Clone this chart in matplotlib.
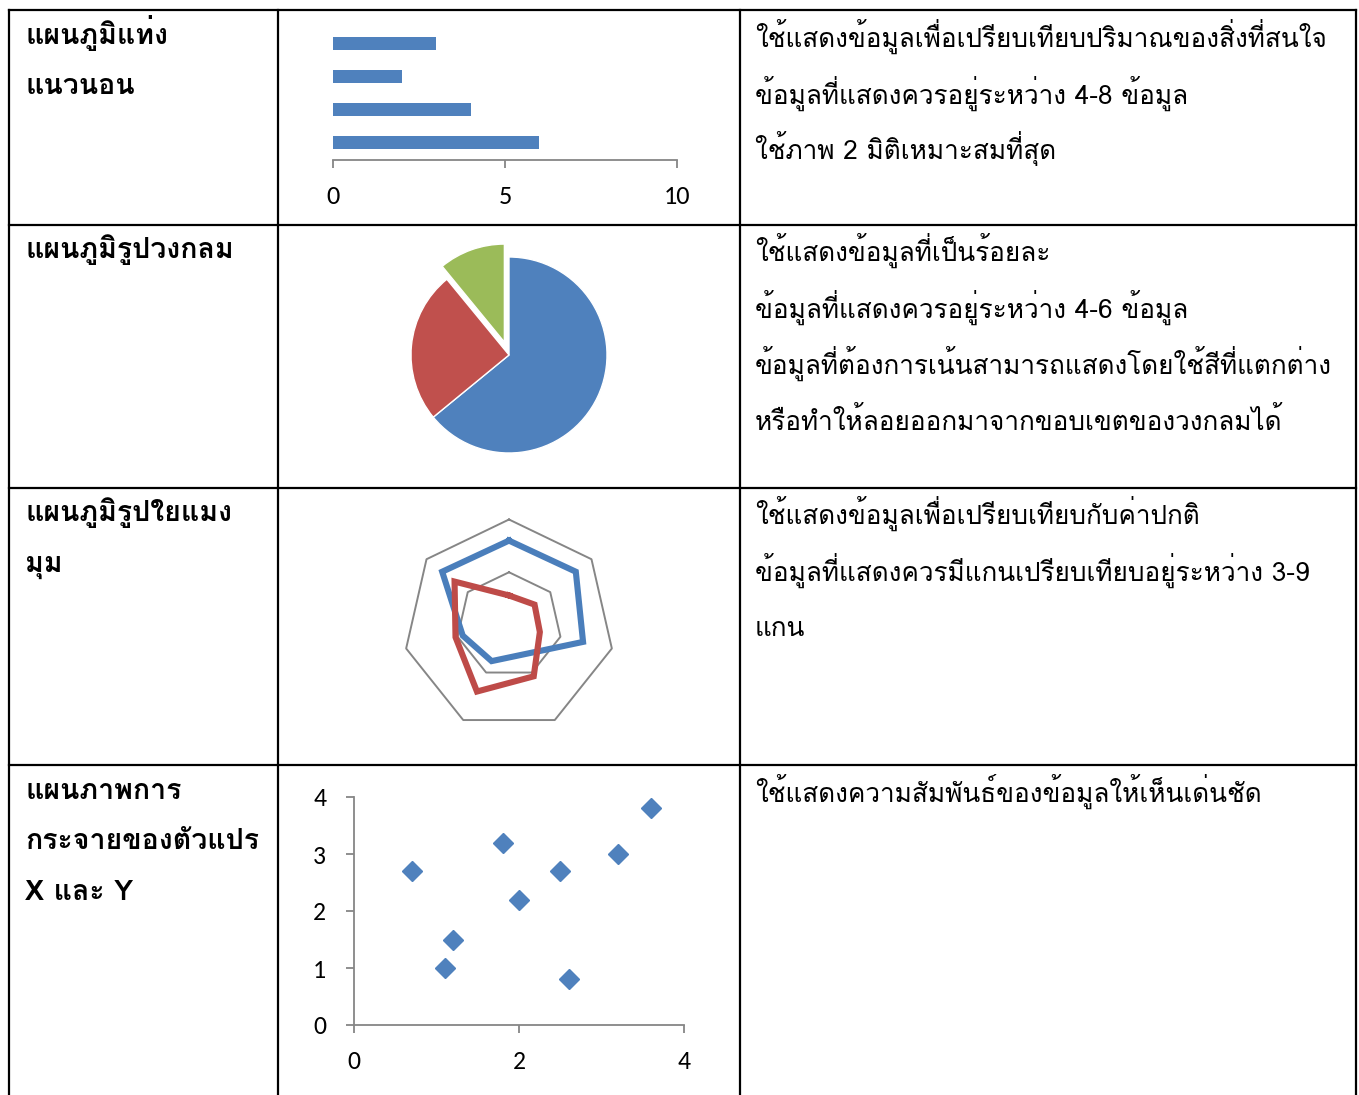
import numpy as np
import matplotlib
matplotlib.use('Agg')
import matplotlib.pyplot as plt

W, H = 1359, 1095
THAI = ['Loma', 'DejaVu Sans']
NUM = ['Carlito', 'Open Sans', 'DejaVu Sans']
AXIS_GREY = '#868686'
BLUE = '#4F81BD'
RED = '#C0504D'
GREEN = '#9BBB59'

# horizontal bar chart (top to bottom)
bar_values = [3, 2, 4, 6]
bar_ticks = [0, 5, 10]

# pie chart
pie_values = [8.2, 3.2, 1.4]
pie_colors = [BLUE, RED, GREEN]
pie_explode = [0, 0, 0.14]

# radar chart, 7 spokes, clockwise from the top
radar_rings = [5, 10]
radar_blue = [8.0, 8.1, 7.2, 3.1, 3.8, 4.5, 8.1]
radar_red = [2.8, 3.1, 3.0, 5.4, 7.0, 5.2, 6.6]

# scatter chart
scatter_x = [0.7, 1.1, 1.2, 1.8, 2.0, 2.5, 2.6, 3.2, 3.6]
scatter_y = [2.7, 1.0, 1.5, 3.2, 2.2, 2.7, 0.8, 3.0, 3.8]
scatter_ticks = [0, 1, 2, 3, 4]
scatter_xticks = [0, 2, 4]

# table text
row_titles = [
    ['แผนภูมิแท่ง', 'แนวนอน'],
    ['แผนภูมิรูปวงกลม'],
    ['แผนภูมิรูปใยแมง', 'มุม'],
    ['แผนภาพการ', 'กระจายของตัวแปร', 'X และ Y'],
]
row_notes = [
    ['ใช้แสดงข้อมูลเพื่อเปรียบเทียบปริมาณของสิ่งที่สนใจ',
     'ข้อมูลที่แสดงควรอยู่ระหว่าง 4-8 ข้อมูล',
     'ใช้ภาพ 2 มิติเหมาะสมที่สุด'],
    ['ใช้แสดงข้อมูลที่เป็นร้อยละ',
     'ข้อมูลที่แสดงควรอยู่ระหว่าง 4-6 ข้อมูล',
     'ข้อมูลที่ต้องการเน้นสามารถแสดงโดยใช้สีที่แตกต่าง',
     'หรือทำให้ลอยออกมาจากขอบเขตของวงกลมได้'],
    ['ใช้แสดงข้อมูลเพื่อเปรียบเทียบกับค่าปกติ',
     'ข้อมูลที่แสดงควรมีแกนเปรียบเทียบอยู่ระหว่าง 3-9',
     'แกน'],
    ['ใช้แสดงความสัมพันธ์ของข้อมูลให้เห็นเด่นชัด'],
]


def box(x0, y0, w, h):
    # pixel box (top-left origin) -> figure fraction
    return [x0 / W, 1 - (y0 + h) / H, w / W, h / H]


fig = plt.figure(figsize=(W / 100, H / 100), dpi=100)

# table grid and text, drawn in pixel space
grid = fig.add_axes([0, 0, 1, 1])
grid.set_xlim(0, W)
grid.set_ylim(H, 0)
grid.axis('off')

row_tops = [10, 225, 488, 765]
col_x = [9, 278, 740, 1356]
for y in row_tops:
    grid.plot([col_x[0], col_x[-1]], [y, y], color='black', lw=1.6)
for x in col_x:
    grid.plot([x, x], [10, H], color='black', lw=1.6)

title_base = [[44, 94], [258], [521, 572], [799, 849, 900]]
note_base = [[46.5, 103.5, 159.5], [260.5, 317.5, 373.5, 430.5],
             [523.5, 580.5, 636.5], [801.5]]
for lines, ys in zip(row_titles, title_base):
    for s, y in zip(lines, ys):
        grid.text(25, y, s, family=THAI, fontsize=20.5, fontweight='bold',
                  va='baseline', ha='left')
for lines, ys in zip(row_notes, note_base):
    for s, y in zip(lines, ys):
        grid.text(755, y, s, family=THAI, fontsize=18.8, va='baseline', ha='left')

# bar chart
ax = fig.add_axes(box(333, 28, 344, 132))
pos = np.arange(len(bar_values))[::-1]
ax.barh(pos, bar_values, height=0.4, color=BLUE)
ax.set_xlim(0, 10)
ax.set_ylim(-0.52, 3.48)
ax.set_xticks(bar_ticks)
ax.set_yticks([])
for side in ['top', 'right', 'left']:
    ax.spines[side].set_visible(False)
ax.spines['bottom'].set_color(AXIS_GREY)
ax.spines['bottom'].set_linewidth(1.3)
ax.tick_params(axis='x', direction='out', length=6, width=1.3, color=AXIS_GREY,
               pad=12, labelsize=19)
for t in ax.get_xticklabels():
    t.set_family(NUM)
ax.patch.set_visible(False)

# pie chart
ax = fig.add_axes(box(411, 257, 196, 196))
ax.pie(pie_values, colors=pie_colors, explode=pie_explode, startangle=90,
       counterclock=False, radius=1,
       wedgeprops=dict(edgecolor='white', linewidth=1.0))
ax.set_xlim(-1, 1)
ax.set_ylim(-1, 1)
ax.set_aspect('equal')
for p in ax.patches:
    p.set_clip_on(False)

# radar chart
R = 105.5
ax = fig.add_axes(box(509 - R, 625 - R, 2 * R, 2 * R), projection='polar')
ax.set_theta_zero_location('N')
ax.set_theta_direction(-1)
ax.set_ylim(0, 10)
ax.axis('off')
theta = np.linspace(0, 2 * np.pi, 8)
for ring in radar_rings:
    ax.plot(theta, [ring] * 8, color=AXIS_GREY, lw=1.4, clip_on=False)
ax.plot(theta, radar_blue + radar_blue[:1], color='#4A7EBB', lw=4.4,
        solid_joinstyle='miter', clip_on=False)
ax.plot(theta, radar_red + radar_red[:1], color='#BE4B48', lw=4.4,
        solid_joinstyle='miter', clip_on=False)

# scatter chart
ax = fig.add_axes(box(354, 797, 330, 228))
ax.plot(scatter_x, scatter_y, linestyle='none', marker='D', markersize=10.5,
        color=BLUE, clip_on=False)
ax.set_xlim(0, 4)
ax.set_ylim(0, 4)
ax.set_xticks(scatter_xticks)
ax.set_yticks(scatter_ticks)
for side in ['top', 'right']:
    ax.spines[side].set_visible(False)
for side in ['left', 'bottom']:
    ax.spines[side].set_color(AXIS_GREY)
    ax.spines[side].set_linewidth(1.3)
ax.tick_params(axis='x', direction='out', length=6, width=1.3, color=AXIS_GREY,
               pad=12, labelsize=18.5)
ax.tick_params(axis='y', direction='out', length=6, width=1.3, color=AXIS_GREY,
               pad=14, labelsize=18.5)
for t in ax.get_xticklabels() + ax.get_yticklabels():
    t.set_family(NUM)
ax.patch.set_visible(False)

fig.savefig('out.png', dpi=100)
